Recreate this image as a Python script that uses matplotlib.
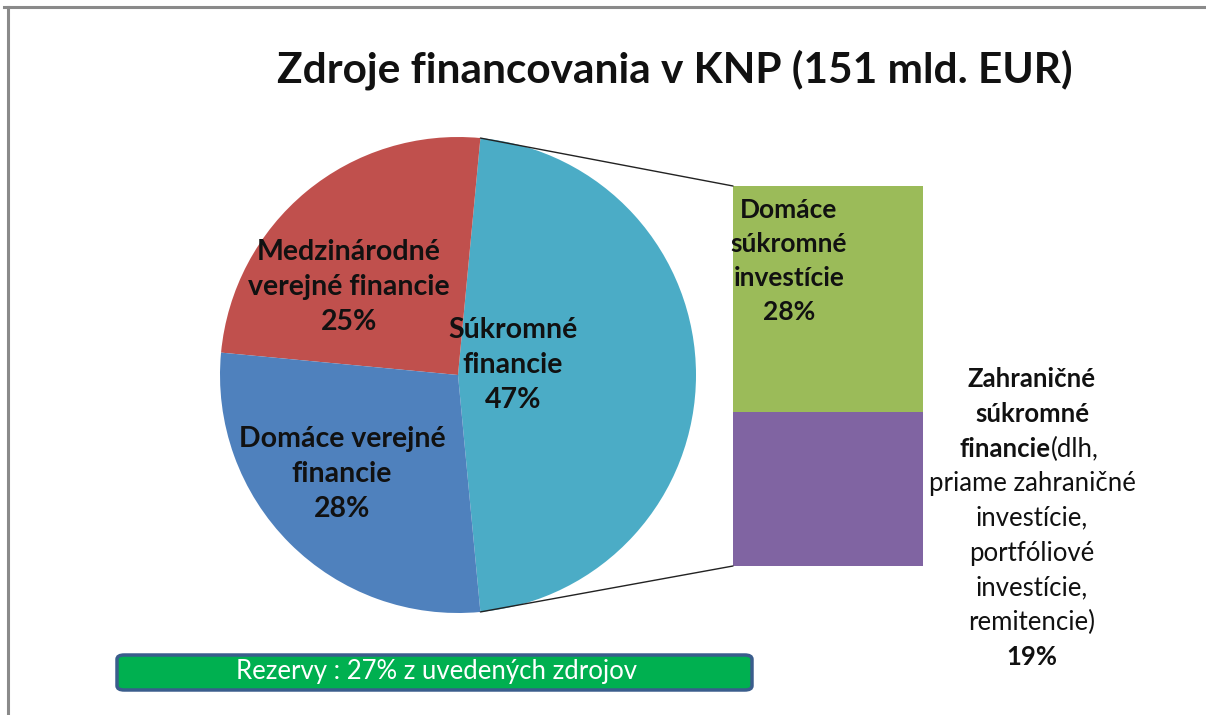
import numpy as np
import matplotlib.pyplot as plt
from matplotlib.patches import FancyBboxPatch, ConnectionPatch
from matplotlib.lines import Line2D

plt.rcParams['font.family'] = ['Lato', 'DejaVu Sans']

# data
pie_labels = ['Súkromné\nfinancie', 'Medzinárodné\nverejné financie', 'Domáce verejné\nfinancie']
pie_values = [47, 25, 28]
pie_colors = ['#4BACC6', '#C0504D', '#4F81BD']

bar_labels = ['Zahraničné súkromné financie', 'Domáce súkromné investície']
bar_values = [19, 28]
bar_colors = ['#8064A2', '#9BBB59']

title = 'Zdroje financovania v KNP (151 mld. EUR)'
note = 'Rezervy : 27% z uvedených zdrojov'

W, H = 1206, 715
fig = plt.figure(figsize=(W / 100, H / 100), dpi=100)
fig.patch.set_facecolor('white')

def px(x, y):
    # image pixel coords (top-left origin) -> figure fraction
    return x / W, 1 - y / H

txt = '#111111'

# frame lines (top and left)
fig.add_artist(Line2D([4 / W, 1], [1 - 7 / H, 1 - 7 / H], color='#8a8a8a', lw=2.2))
fig.add_artist(Line2D([8 / W, 8 / W], [0, 1 - 7 / H], color='#8a8a8a', lw=2.2))

# title
fig.text(*px(675, 70), title, ha='center', va='center', fontsize=30.5, fontweight='bold', color=txt)

# pie
cx, cy, r = 458, 375, 238
ax_pie = fig.add_axes([(cx - r) / W, 1 - (cy + r) / H, 2 * r / W, 2 * r / H])
start = -pie_values[0] * 3.6 / 2
wedges, _ = ax_pie.pie(pie_values, colors=pie_colors, startangle=start, counterclock=True,
                       radius=1, wedgeprops=dict(linewidth=0))
ax_pie.set_xlim(-1, 1)
ax_pie.set_ylim(-1, 1)
ax_pie.set_aspect('equal')
ax_pie.axis('off')

label_pos = [(513, 365), (349, 287), (342, 474)]
for lab, val, (lx, ly) in zip(pie_labels, pie_values, label_pos):
    fig.text(*px(lx, ly), f'{lab}\n{val}%', ha='center', va='center', fontsize=20.5,
             fontweight='bold', color=txt, linespacing=1.45)

# stacked bar
bx0, bx1, by0, by1 = 733, 923, 186, 566
ax_bar = fig.add_axes([bx0 / W, 1 - by1 / H, (bx1 - bx0) / W, (by1 - by0) / H])
bottom = 0
for v, c in zip(bar_values, bar_colors):
    ax_bar.bar(0, v, bottom=bottom, width=1, color=c, linewidth=0)
    bottom += v
ax_bar.set_xlim(-0.5, 0.5)
ax_bar.set_ylim(0, sum(bar_values))
ax_bar.axis('off')

# connector lines from pie wedge edges to bar corners
w = wedges[0]
for ang, yb in [(w.theta2, sum(bar_values)), (w.theta1, 0)]:
    p = (np.cos(np.radians(ang)), np.sin(np.radians(ang)))
    con = ConnectionPatch(xyA=p, coordsA=ax_pie.transData, xyB=(-0.5, yb), coordsB=ax_bar.transData,
                          color='#222222', lw=1.0)
    fig.add_artist(con)

# bar labels
fig.text(*px(789, 261), f'Domáce\nsúkromné\ninvestície\n{bar_values[1]}%', ha='center', va='center',
         fontsize=19, fontweight='bold', color=txt, linespacing=1.5)

rx = 1032
fs = 18.5
lines_y = [379, 414, 449, 483, 518, 553, 588, 622, 657]
fig.text(*px(rx, lines_y[0]), 'Zahraničné', ha='center', va='center', fontsize=fs, fontweight='bold', color=txt)
fig.text(*px(rx, lines_y[1]), 'súkromné', ha='center', va='center', fontsize=fs, fontweight='bold', color=txt)
fig.text(*px(1051, lines_y[2]), 'financie', ha='right', va='center', fontsize=fs, fontweight='bold', color=txt)
fig.text(*px(1051, lines_y[2]), '(dlh,', ha='left', va='center', fontsize=fs, color=txt)
for s, yy in zip(['priame zahraničné', 'investície,', 'portfóliové', 'investície,', 'remitencie)'], lines_y[3:8]):
    fig.text(*px(rx, yy), s, ha='center', va='center', fontsize=fs, color=txt)
fig.text(*px(rx, lines_y[8]), f'{bar_values[0]}%', ha='center', va='center', fontsize=fs, fontweight='bold', color=txt)

# reserve box
x0, y0 = px(117, 690)
x1, y1 = px(752, 655)
box = FancyBboxPatch((x0, y0), x1 - x0, y1 - y0, boxstyle='round,pad=0,rounding_size=0.006',
                     transform=fig.transFigure, facecolor='#00B050', edgecolor='#3A5D8C', lw=2.5)
fig.add_artist(box)
fig.text(*px(436, 671), note, ha='center', va='center', fontsize=18.5, color='white')

fig.savefig('out.png', dpi=100)
